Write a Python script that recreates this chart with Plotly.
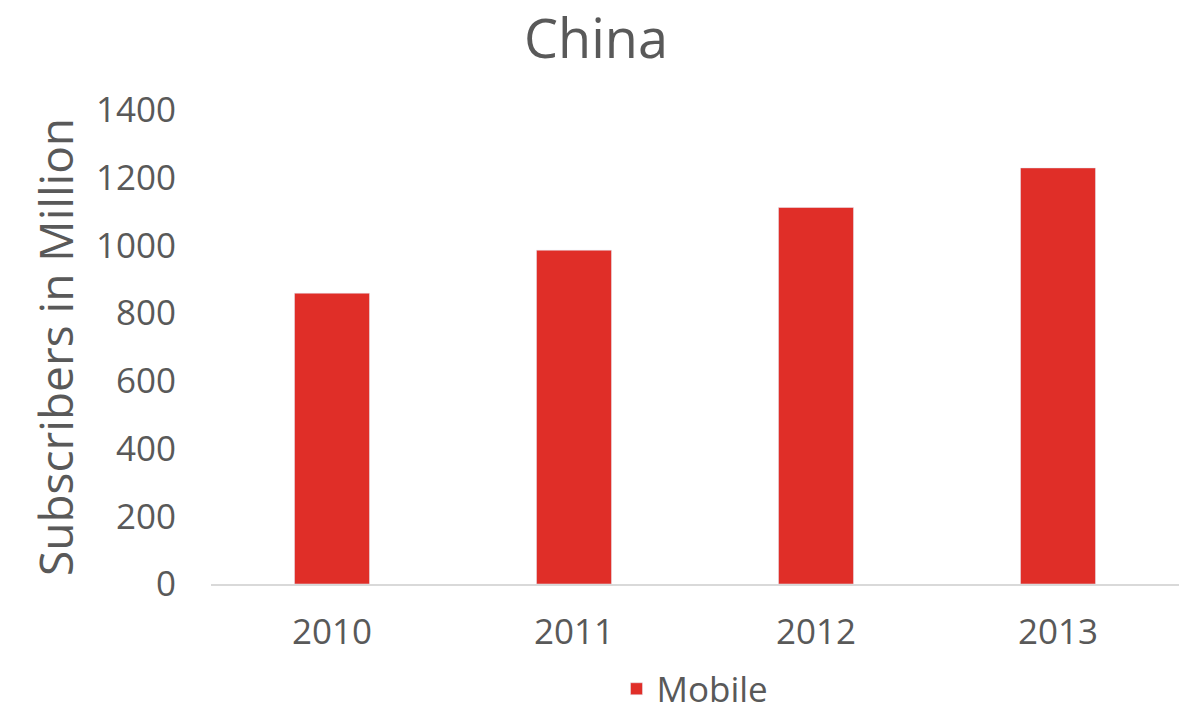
import plotly.graph_objects as go

years = ["2010", "2011", "2012", "2013"]
mobile = [859, 986, 1112, 1229]

font_family = "Open Sans"
grey = "#595959"
red = "#E02E28"

fig = go.Figure()
fig.add_trace(go.Bar(x=years, y=mobile, name="Mobile", marker_color=red,
                     width=0.31, showlegend=True))

fig.update_layout(
    width=1192, height=714,
    margin=dict(l=211, r=13, t=110, b=130, autoexpand=False),
    paper_bgcolor="white", plot_bgcolor="white",
    font=dict(family=font_family, color=grey, size=35),
    title=dict(text="China", x=0.5, xanchor="center", y=0.945, yanchor="middle",
               font=dict(size=54, color=grey, family=font_family)),
    showlegend=True,
    legend=dict(orientation="h", x=0.5, xanchor="center", yref="container",
                y=0.035, yanchor="middle", font=dict(size=35, color=grey)),
    bargap=0.69,
)
fig.update_xaxes(showline=True, linecolor="#D9D9D9", linewidth=2, showgrid=False,
                 ticks="", tickfont=dict(size=35, color=grey), ticklabelstandoff=16)
fig.update_yaxes(range=[0, 1400], dtick=200, showgrid=False, zeroline=False,
                 showline=False, ticks="", tickfont=dict(size=35, color=grey),
                 ticklabelstandoff=34,
                 title=dict(text="Subscribers in Million", font=dict(size=46, color=grey),
                            standoff=7))

fig.write_html("out.html")
